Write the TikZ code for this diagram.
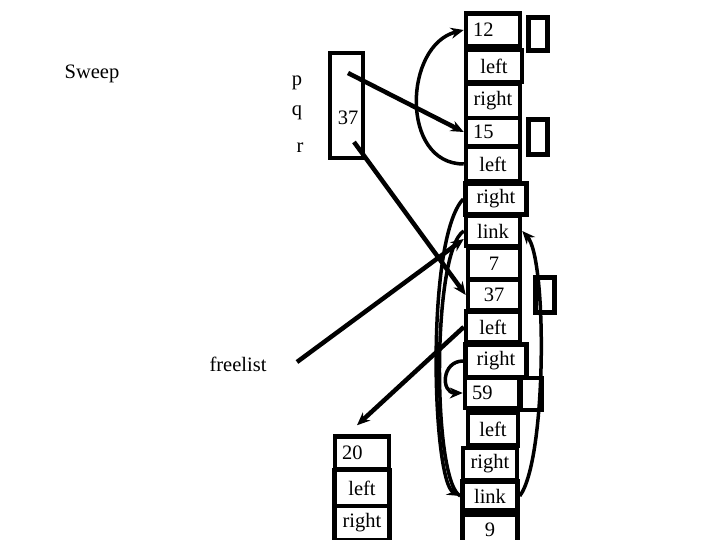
\documentclass[tikz,border=0pt]{standalone}
\usepackage{fontspec}
\setmainfont{Liberation Serif}
\usetikzlibrary{arrows.meta}

\tikzset{
  fld/.style={draw, line width=4.5pt, inner sep=0pt, minimum width=54pt, minimum height=32pt},
  lft/.style={inner xsep=7pt, text width=40pt, align=left},
  side/.style={draw, line width=4.5pt, inner sep=0pt, minimum width=19pt, minimum height=33pt},
  ptr/.style={->, line width=4.5pt},
  lnk/.style={->, line width=3.5pt}
}

\begin{document}
\begin{tikzpicture}[x=1pt, y=-1pt, >={Stealth[length=13pt,width=11pt]}, font=\fontsize{20.5}{24}\selectfont]
\useasboundingbox (0,0) rectangle (720,540);

% Labels
\node (sweep) at (92,74) {Sweep};
\node (freelist) at (238,364) {freelist};
\node (lp) at (297,83) {p};
\node (lq) at (297,113) {q};
\node (lr) at (300,148) {r};

% Pointer box
\node[fld, minimum width=33pt, minimum height=105pt] (pbox) at (346.5,105.5) {};
\node (val) at (348,118) {37};

% Right column
\node[fld, lft, minimum height=33pt] (n12) at (493,30) {12};
\node[side] (s12) at (538,34) {};
\node[fld, minimum width=56pt] (l1) at (494,66) {left};
\node[fld, minimum height=34pt] (r1) at (493,101) {right};
\node[fld, lft, minimum height=28pt] (n15) at (493,132) {15};
\node[side, minimum height=35pt] (s15) at (538,137) {};
\node[fld, minimum height=35pt] (l2) at (493,164) {left};
\node[fld, minimum width=61pt, minimum height=31pt] (r2) at (496,199) {right};
\node[fld, minimum height=30pt] (k1) at (493,231) {link};
\node[fld, minimum width=52pt] (n7) at (494,264) {7};
\node[fld, minimum width=52pt, minimum height=31pt] (n37) at (494,295) {37};
\node[side, minimum height=35pt] (s37) at (545,295) {};
\node[fld, minimum height=31pt] (l3) at (493,327) {left};
\node[fld, minimum width=61pt, minimum height=33pt] (r3) at (496,361) {right};
\node[fld, lft, minimum height=30pt] (n59) at (492,393) {59};
\node[side, minimum width=21pt, minimum height=32pt] (s59) at (531,394) {};
\node[fld, minimum width=50pt, minimum height=33pt] (l4) at (493,429) {left};
\node[fld] (r4) at (490,464) {right};
\node[fld, minimum width=55pt, minimum height=29pt] (k2) at (490,496) {link};
\node[fld, minimum width=55pt, minimum height=30pt] (n9) at (490,530) {9};

% Bottom left record
\node[fld, lft, minimum height=33pt] (b20) at (362,453) {20};
\node[fld, minimum width=55pt, minimum height=36pt] (bl) at (362,488) {left};
\node[fld, minimum width=55pt, minimum height=34pt] (br) at (362,523) {right};

% Arrows
\coordinate (pp) at (348,73);
\coordinate (rr) at (354,142);
\coordinate (fl) at (297,362);
\draw[ptr] (pp) -- (n15.west);
\draw[ptr] (rr) -- (n37.west);
\draw[ptr] (fl) -- ([yshift=-8pt]k1.west);
\draw[ptr] (l3.west) -- ([xshift=-5pt,yshift=9pt]b20.north);
\draw[lnk] (l2.west) .. controls +(-64,0) and +(-60,15) .. (n12.west);
\draw[lnk] (r3.west) .. controls +(-22,0) and +(-22,0) .. (n59.west);
\draw[lnk] (r2.west) .. controls +(-38,40) and +(-28,-15) .. (k2.west);
\draw[line width=3.5pt] (k1.west) .. controls +(-32,20) and +(-28,-15) .. (k2.west);
\draw[lnk] (k2.east) .. controls +(27,-36) and +(25,28) .. (k1.east);

\end{tikzpicture}
\end{document}
